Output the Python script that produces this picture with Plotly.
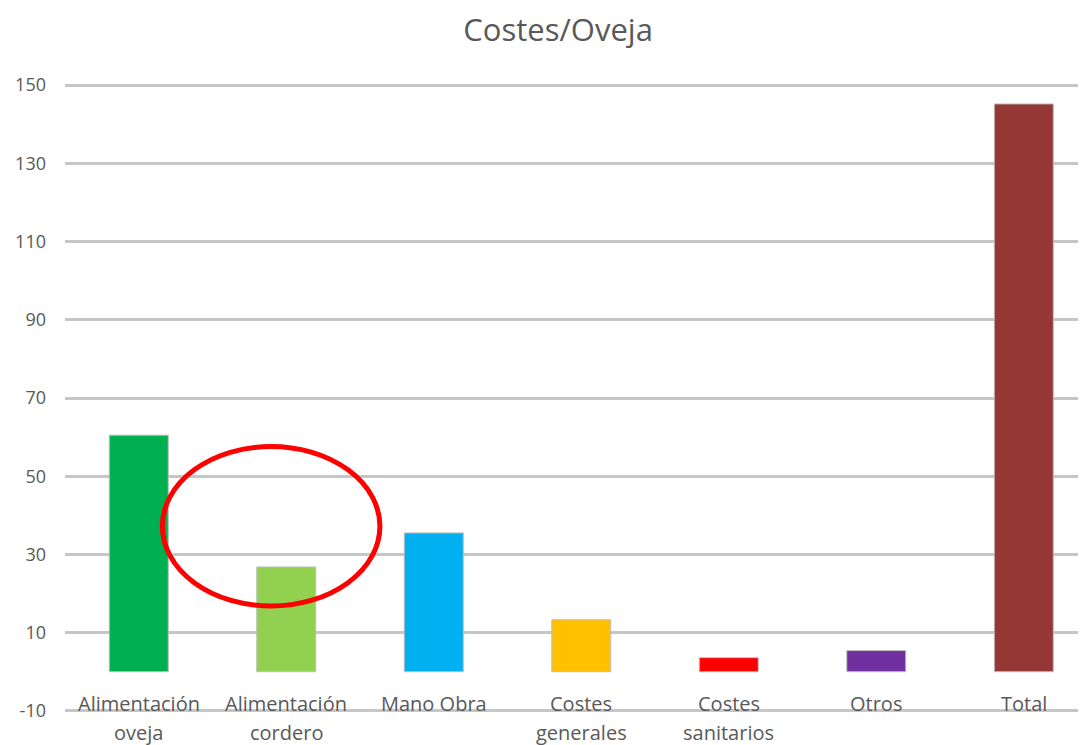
import plotly.graph_objects as go

categories = ["Alimentación<br>oveja", "Alimentación<br>cordero", "Mano Obra",
              "Costes<br>generales", "Costes<br>sanitarios", "Otros", "Total"]
values = [60.5, 26.8, 35.5, 13.3, 3.6, 5.4, 145.2]
colors = ["#00B050", "#92D050", "#00B0F0", "#FFC000", "#FF0000", "#7030A0", "#953735"]
tick_vals = [-10, 10, 30, 50, 70, 90, 110, 130, 150]
tick_text = ["-10", "10", "30", "50", "70", "90", "110", "130", "150"]

FONT = "Open Sans"
GREY = "#595959"

fig = go.Figure()
fig.add_trace(go.Bar(
    x=list(range(len(categories))), y=values,
    marker=dict(color=colors, line=dict(color="#bfbfbf", width=1)),
    width=0.4, showlegend=False, hoverinfo="skip",
))

annotations = []
for i, lab in enumerate(categories):
    for j, line in enumerate(lab.split("<br>")):
        annotations.append(dict(
            x=i, y=0, xref="x", yref="y", text=line, showarrow=False,
            yanchor="middle", xanchor="center", yshift=-32 - 29 * j,
            font=dict(family=FONT, size=20, color=GREY),
        ))

fig.update_layout(
    width=1086, height=745,
    margin=dict(l=57, r=0, t=76, b=41),
    plot_bgcolor="white", paper_bgcolor="white",
    title=dict(text="Costes/Oveja", x=0.5065, xanchor="center", y=0.97, yanchor="middle",
               font=dict(family=FONT, size=31, color=GREY)),
    xaxis=dict(range=[-0.5, 6.476], showticklabels=False, showgrid=False,
               zeroline=False, showline=False, ticks=""),
    yaxis=dict(range=[-10.3, 150.3], tickvals=tick_vals, ticktext=tick_text, showgrid=True,
               gridcolor="#c6c6c6", gridwidth=2.5, zeroline=False, showline=False,
               tickfont=dict(family=FONT, size=18, color=GREY), ticklabelstandoff=18),
    annotations=annotations,
    shapes=[dict(type="circle", xref="x", yref="y", x0=0.16, x1=1.635, y0=16.8, y1=57.6,
                 line=dict(color="#ff0000", width=5), layer="above")],
    bargap=0.6,
)

fig.write_html("out.html")
